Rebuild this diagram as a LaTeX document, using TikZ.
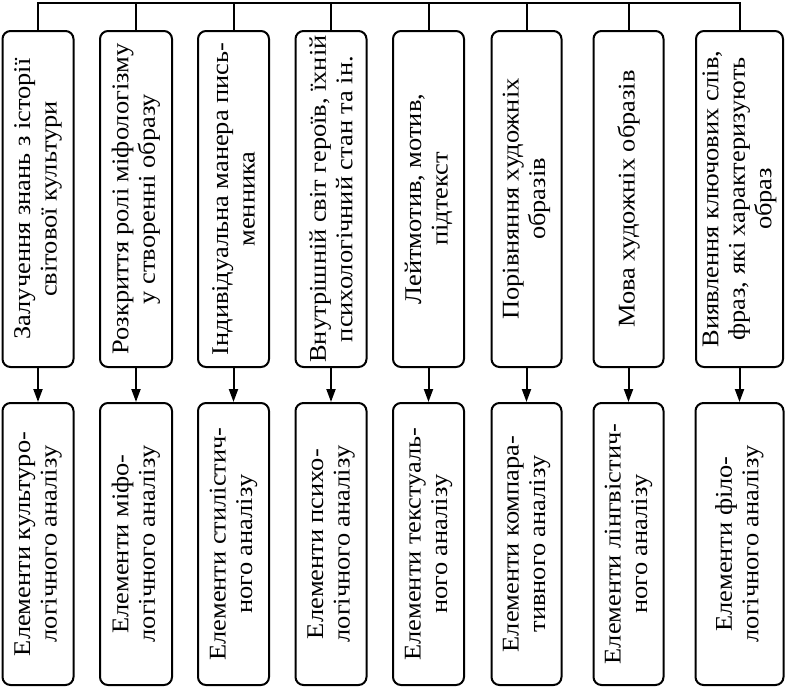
\documentclass[tikz,border=0pt]{standalone}
\usepackage{fontspec}
\setmainfont[FakeStretch=1.1]{Liberation Serif}
\usetikzlibrary{arrows.meta}

\begin{document}
\begin{tikzpicture}[x=1pt,y=-1pt,line width=2pt,
  box/.style={draw,rounded corners=8pt,rotate=90,align=center,inner sep=2pt,
    font=\fontsize{24}{26.5}\selectfont}]
\useasboundingbox (0,0) rectangle (786,689);

% upper row
\foreach \i/\x/\w/\txt in {
  1/38/71/{Залучення знань з історії\\світової культури},
  2/136/72/{Розкриття ролі міфологізму\\у створенні образу},
  3/233.5/71/{Індивідуальна манера пись-\\менника},
  4/331/71/{Внутрішній світ героїв, їхній\\психологічний стан та ін.},
  5/428.5/71/{Лейтмотив, мотив,\\підтекст},
  6/526.5/70/{Порівняння художніх\\образів},
  7/628.5/70/{Мова художніх образів},
  8/739.5/87/{Виявлення ключових слів,\\фраз, які характеризують\\образ}}
  \node[box,minimum width=336pt,minimum height=\w pt] (m\i) at (\x,199) {\txt};

% lower row
\foreach \i/\x/\w/\txt in {
  1/38/71/{Елементи культуро-\\логічного аналізу},
  2/136/72/{Елементи міфо-\\логічного аналізу},
  3/233.5/71/{Елементи стилістич-\\ного аналізу},
  4/331/71/{Елементи психо-\\логічного аналізу},
  5/428.5/71/{Елементи текстуаль-\\ного аналізу},
  6/526.5/70/{Елементи компара-\\тивного аналізу},
  7/628.5/70/{Елементи лінгвістич-\\ного аналізу},
  8/739.5/88/{Елементи філо-\\логічного аналізу}}
  \node[box,minimum width=282pt,minimum height=\w pt] (e\i) at (\x,544) {\txt};

% top line, stems and arrows
\foreach \i/\x in {1/38,2/136,3/233.5,4/331,5/428.5,6/526.5,7/628.5,8/739.5} {
  \coordinate (t\i) at (\x,3);
  \draw (t\i) -- (m\i.east);
  \draw[-{Triangle[length=13pt,width=9pt]}] (m\i.west) -- (e\i.east);}
\draw[line cap=rect] (t1) -- (t8);

\end{tikzpicture}
\end{document}
